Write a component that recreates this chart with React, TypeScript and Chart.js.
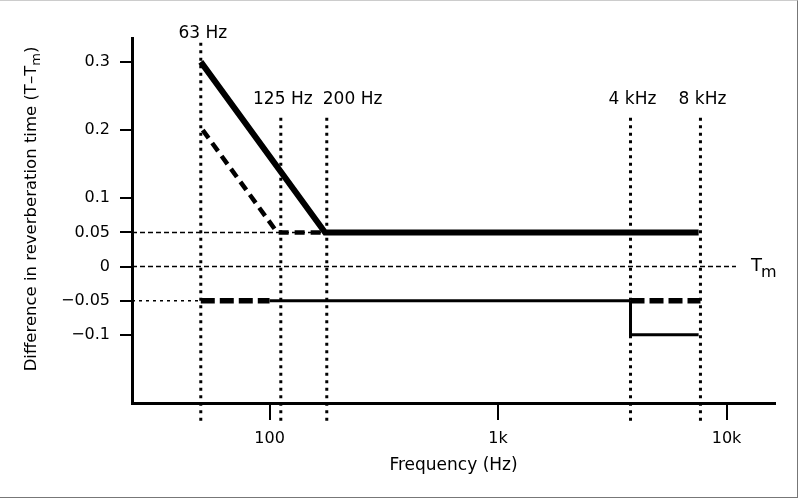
import React, { useRef, useEffect } from 'react';
import { Chart, registerables } from 'chart.js';

Chart.register(...registerables);

// frequencies of the dotted marker lines, as placed in the drawing
const markerFreqs = [50, 112, 178, 3800, 7690];
const markerLabels = ['63 Hz', '125 Hz', '200 Hz', '4 kHz', '8 kHz'];
const markerTop = [0.328, 0.218, 0.218, 0.218, 0.218];
const markerBottom = -0.23;

// upper limit (thick solid)
const upperSolidFreq = [50, 175, 7550];
const upperSolidVal = [0.3, 0.05, 0.05];
// upper limit, alternative (thick dashed)
const upperDashedFreq = [51, 108, 172];
const upperDashedVal = [0.2, 0.05, 0.05];
// thin dashed reference at 0.05
const refFreq = [25, 178];
const refVal = [0.05, 0.05];
// Tm line
const zeroFreq = [25, 11000];
const zeroVal = [0, 0];
// lower limit pieces
const lowDottedFreq = [25, 50];
const lowDottedVal = [-0.05, -0.05];
const lowDashLeftFreq = [50, 100];
const lowDashLeftVal = [-0.05, -0.05];
const lowSolidFreq = [100, 3800];
const lowSolidVal = [-0.05, -0.05];
const lowDashRightFreq = [3800, 7690];
const lowDashRightVal = [-0.05, -0.05];
const stepFreq = [3800, 3800, 7550];
const stepVal = [-0.05, -0.1, -0.1];

const xTickValues = [100, 1000, 10000];
const xTickLabels = ['100', '1k', '10k'];
const yTickValues = [0.3, 0.2, 0.1, 0.05, 0, -0.05, -0.1];
const yTickLabels = ['0.3', '0.2', '0.1', '0.05', '0', '\u22120.05', '\u22120.1'];

const FONT = '"DejaVu Sans", sans-serif';

const pts = (xs: number[], ys: number[]) => xs.map((x, i) => ({ x, y: ys[i] }));

const line = (data: any, width: number, dash: number[] = [], extra: any = {}) => ({
    data,
    borderColor: '#000',
    borderWidth: width,
    borderDash: dash,
    showLine: true,
    pointRadius: 0,
    fill: false,
    tension: 0,
    ...extra,
});

const textPlugin = {
    id: 'textPlugin',
    afterDraw(chart: any) {
        const ctx = chart.ctx;
        const xs = chart.scales.x;
        const ys = chart.scales.y;
        ctx.save();
        ctx.fillStyle = '#000';
        ctx.font = '17px ' + FONT;
        ctx.textBaseline = 'bottom';

        // marker labels
        markerLabels.forEach((lab, i) => {
            const px = xs.getPixelForValue(markerFreqs[i]);
            const top = ys.getPixelForValue(markerTop[i]);
            const gap = i === 0 ? 1 : 10;
            if (i === 2) {
                ctx.textAlign = 'left';
                ctx.fillText(lab, px - 4, top - gap);
            } else {
                ctx.textAlign = 'center';
                ctx.fillText(lab, px + 2, top - gap);
            }
        });

        // Tm label at the end of the zero line
        const tx = xs.getPixelForValue(zeroFreq[1]) + 15;
        const ty = ys.getPixelForValue(0);
        ctx.textAlign = 'left';
        ctx.textBaseline = 'middle';
        ctx.font = '18px ' + FONT;
        ctx.fillText('T', tx, ty);
        const tw = ctx.measureText('T').width;
        ctx.font = '16px ' + FONT;
        ctx.fillText('m', tx + tw - 1, ty + 6);

        // x title
        ctx.font = '17px ' + FONT;
        ctx.textAlign = 'center';
        ctx.fillText('Frequency (Hz)', (chart.chartArea.left + chart.chartArea.right) / 2, 466);

        // y title with subscript
        ctx.translate(32, 209);
        ctx.rotate(-Math.PI / 2);
        ctx.textAlign = 'left';
        const p1 = 'Difference in reverberation time (T\u2013T';
        const p2 = 'm';
        const p3 = ')';
        ctx.font = '16.5px ' + FONT;
        const w1 = ctx.measureText(p1).width;
        const w3 = ctx.measureText(p3).width;
        ctx.font = '13px ' + FONT;
        const w2 = ctx.measureText(p2).width;
        let x0 = -(w1 + w2 + w3) / 2;
        ctx.font = '16.5px ' + FONT;
        ctx.fillText(p1, x0, 0);
        x0 += w1;
        ctx.font = '13px ' + FONT;
        ctx.fillText(p2, x0, 5);
        x0 += w2;
        ctx.font = '16.5px ' + FONT;
        ctx.fillText(p3, x0, 0);
        ctx.restore();
    },
};

const ReverbChart: React.FC = () => {
    const chartRef = useRef<HTMLCanvasElement | null>(null);

    useEffect(() => {
        if (!chartRef.current) return;
        const markers = markerFreqs.map((f, i) =>
            line(pts([f, f], [markerTop[i], markerBottom]), 3, [3, 4.5], { clip: false, order: 10 })
        );
        const chart = new Chart(chartRef.current, {
            type: 'scatter',
            data: {
                datasets: [
                    ...markers,
                    line(pts(refFreq, refVal), 1.5, [5, 3], { order: 9 }),
                    line(pts(zeroFreq, zeroVal), 1.5, [5, 3], { order: 9 }),
                    line(pts(lowDottedFreq, lowDottedVal), 1.5, [3, 4], { order: 8 }),
                    line(pts(upperSolidFreq, upperSolidVal), 6, [], { order: 1 }),
                    line(pts(upperDashedFreq, upperDashedVal), 4.5, [10, 6], { order: 2 }),
                    line(pts(lowDashLeftFreq, lowDashLeftVal), 5.5, [14, 5], { order: 2 }),
                    line(pts(lowSolidFreq, lowSolidVal), 3, [], { order: 3 }),
                    line(pts(lowDashRightFreq, lowDashRightVal), 5.5, [14, 5], { order: 2 }),
                    line(pts(stepFreq, stepVal), 3, [], { order: 3 }),
                ] as any,
            },
            options: {
                animation: false,
                responsive: true,
                maintainAspectRatio: false,
                layout: { padding: { top: 38, right: 25, left: 0, bottom: 0 } },
                plugins: {
                    legend: { display: false },
                    tooltip: { enabled: false },
                },
                scales: {
                    x: {
                        type: 'logarithmic',
                        position: 'bottom',
                        min: 25,
                        max: 16300,
                        afterBuildTicks: (s: any) => {
                            s.ticks = xTickValues.map((v) => ({ value: v }));
                        },
                        afterFit: (s: any) => {
                            s.height = 97;
                        },
                        ticks: {
                            autoSkip: false,
                            maxRotation: 0,
                            color: '#000',
                            padding: 9,
                            font: { family: FONT, size: 16 },
                            callback: (v: any) => {
                                const i = xTickValues.indexOf(Number(v));
                                return i >= 0 ? xTickLabels[i] : '';
                            },
                        },
                        grid: { drawOnChartArea: false, drawTicks: true, tickLength: 17, color: '#000', lineWidth: 2 },
                        border: { color: '#000', width: 3 },
                    },
                    y: {
                        type: 'linear',
                        min: -0.2,
                        max: 0.335,
                        afterBuildTicks: (s: any) => {
                            s.ticks = yTickValues.map((v) => ({ value: v }));
                        },
                        afterFit: (s: any) => {
                            s.width = 132;
                        },
                        ticks: {
                            autoSkip: false,
                            color: '#000',
                            padding: 10,
                            font: { family: FONT, size: 16 },
                            callback: (v: any) => {
                                const i = yTickValues.indexOf(Number(v));
                                return i >= 0 ? yTickLabels[i] : '';
                            },
                        },
                        grid: { drawOnChartArea: false, drawTicks: true, tickLength: 12, color: '#000', lineWidth: 2 },
                        border: { color: '#000', width: 3 },
                    },
                },
            } as any,
            plugins: [textPlugin],
        });

        return () => {
            chart.destroy();
        };
    }, []);

    return <canvas ref={chartRef}></canvas>;
};

export default function App() {
    return (
        <div style={{ position: 'absolute', left: 0, top: 0, width: 800, height: 500, background: '#fff' }}>
            <ReverbChart />
            <div
                style={{
                    position: 'absolute',
                    left: 0,
                    top: 0,
                    width: 798,
                    height: 498,
                    boxSizing: 'border-box',
                    borderTop: '1px solid #ccc',
                    borderRight: '1px solid #777',
                    borderBottom: '1px solid #777',
                    pointerEvents: 'none',
                }}
            />
        </div>
    );
}
